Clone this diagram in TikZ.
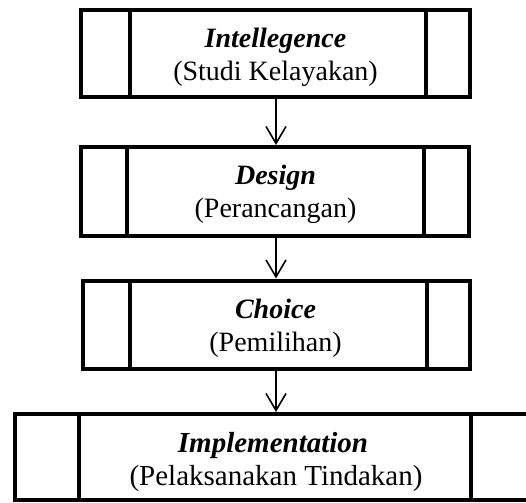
\documentclass[tikz,border=0pt]{standalone}
\usepackage{fontspec}
\setmainfont{Liberation Serif}
\usetikzlibrary{arrows.meta,calc}
\begin{document}
\begin{tikzpicture}[x=1pt,y=-1pt,
  stage/.style={draw,line width=4pt,inner sep=0pt},
  divider/.style={line width=4pt},
  title/.style={font=\fontsize{28}{32}\selectfont\bfseries\itshape,anchor=base,inner sep=0pt},
  subtitle/.style={font=\fontsize{28}{32}\selectfont,anchor=base,inner sep=0pt},
  bigtitle/.style={font=\fontsize{29}{33}\selectfont\bfseries\itshape,anchor=base,inner sep=0pt},
  bigsubtitle/.style={font=\fontsize{29}{33}\selectfont,anchor=base,inner sep=0pt},
  flow/.style={line width=1.6pt,-{Straight Barb[length=17pt,width=20pt]}}]
\useasboundingbox (0,0) rectangle (526,502);
\clip (0,0) rectangle (526,502);

% boxes
\node[stage,minimum width=388.5pt,minimum height=87pt] (b1) at (275.25,54) {};
\node[stage,minimum width=388.5pt,minimum height=89pt] (b2) at (274.75,191.5) {};
\node[stage,minimum width=386.5pt,minimum height=88.5pt] (b3) at (276.25,324.75) {};
\node[stage,minimum width=521pt,minimum height=85.5pt] (b4) at (275.5,456.75) {};

% inner dividers
\draw[divider] ($(b1.north west)+(50.5,0)$) -- ($(b1.south west)+(50.5,0)$);
\draw[divider] ($(b1.north east)+(-46,0)$) -- ($(b1.south east)+(-46,0)$);
\draw[divider] ($(b2.north west)+(48.5,0)$) -- ($(b2.south west)+(48.5,0)$);
\draw[divider] ($(b2.north east)+(-47,0)$) -- ($(b2.south east)+(-47,0)$);
\draw[divider] ($(b3.north west)+(48.5,0)$) -- ($(b3.south west)+(48.5,0)$);
\draw[divider] ($(b3.north east)+(-44.5,0)$) -- ($(b3.south east)+(-44.5,0)$);
\draw[divider] ($(b4.north west)+(65.5,0)$) -- ($(b4.south west)+(65.5,0)$);
\draw[divider] ($(b4.north east)+(-67.5,0)$) -- ($(b4.south east)+(-67.5,0)$);

% texts
\node[title] (t1) at (275.5,47.5) {Intellegence};
\node[subtitle] (s1) at (275.5,80.5) {(Studi Kelayakan)};
\node[title] (t2) at (275.5,185) {Design};
\node[subtitle] (s2) at (275.5,218) {(Perancangan)};
\node[title] (t3) at (275.5,318.5) {Choice};
\node[subtitle] (s3) at (275.5,351.5) {(Pemilihan)};
\node[bigtitle] (t4) at (273,452.5) {Implementation};
\node[bigsubtitle] (s4) at (276,485) {(Pelaksanakan Tindakan)};

% connectors
\coordinate (c1) at (276,0);
\draw[flow] (b1.south -| c1) -- (b2.north -| c1);
\draw[flow] (b2.south -| c1) -- (b3.north -| c1);
\draw[flow] (b3.south -| c1) -- (b4.north -| c1);
\end{tikzpicture}
\end{document}
